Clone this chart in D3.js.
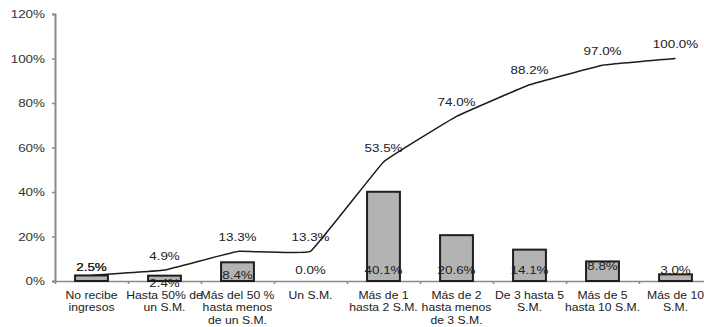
<!DOCTYPE html>
<html>
<head>
<meta charset="utf-8">
<script src="https://cdn.jsdelivr.net/npm/d3@7"></script>
<style>
  html, body { margin: 0; padding: 0; background: #fff; }
  svg { display: block; }
  text { font-family: Arial, "Liberation Sans", sans-serif; fill: #222; }
</style>
</head>
<body>
<svg id="chart" width="704" height="327"></svg>
<script>
// Income brackets (S.M. = salario mínimo)
const categories = [
  ["No recibe", "ingresos"],
  ["Hasta 50% de", "un S.M."],
  ["Más del 50 %", "hasta menos", "de un S.M."],
  ["Un S.M."],
  ["Más de 1", "hasta 2 S.M."],
  ["Más de 2", "hasta menos", "de 3 S.M."],
  ["De 3 hasta 5", "S.M."],
  ["Más de 5", "hasta 10 S.M."],
  ["Más de 10", "S.M."]
];
// Share of population per bracket (%)
const shares = [2.5, 2.4, 8.4, 0.0, 40.1, 20.6, 14.1, 8.8, 3.0];
// Cumulative share (%)
const cumulative = [2.5, 4.9, 13.3, 13.3, 53.5, 74.0, 88.2, 97.0, 100.0];
// Y axis tick values (%)
const yTicks = [0, 20, 40, 60, 80, 100, 120];

const svg = d3.select("#chart");
const plotLeft = 55, plotRight = 712, plotTop = 14, plotBottom = 281;
const sx = 1.22; // horizontal text stretch

const idx = d3.range(categories.length);
const x = d3.scaleBand().domain(idx).range([plotLeft, plotRight]).paddingInner(0.55).paddingOuter(0.275);
const xEdge = d3.scaleLinear().domain([0, categories.length]).range([plotLeft, plotRight]);
const y = d3.scaleLinear().domain([0, 120]).range([plotBottom, plotTop]);
const cx = i => x(i) + x.bandwidth() / 2;
const fmt = v => v.toFixed(1) + "%";

// Y axis
const gy = svg.append("g").attr("transform", `translate(${plotLeft},0)`)
  .call(d3.axisLeft(y).tickValues(yTicks).tickSize(3).tickFormat(d => d + "%"));
gy.select(".domain").attr("stroke", "#8a8a8a").attr("stroke-width", 2);
gy.selectAll(".tick line").attr("stroke", "#8a8a8a").attr("stroke-width", 1.5);
gy.selectAll(".tick text")
  .attr("x", null).attr("dy", null)
  .attr("dominant-baseline", "central")
  .attr("transform", `translate(-10,0) scale(${sx},1)`)
  .style("font-size", "11px").style("fill", "#333").attr("font-family", null);

// X axis with ticks on bracket boundaries
const gx = svg.append("g").attr("transform", `translate(0,${plotBottom})`)
  .call(d3.axisBottom(xEdge).tickValues(d3.range(categories.length + 1)).tickSize(3).tickFormat("").tickSizeOuter(0));
gx.select(".domain").attr("stroke", "#8a8a8a").attr("stroke-width", 1.5);
gx.selectAll(".tick line").attr("stroke", "#8a8a8a").attr("stroke-width", 1.5);

// Category labels
const catG = svg.append("g");
categories.forEach((lines, i) => {
  lines.forEach((s, k) => {
    catG.append("text")
      .attr("transform", `translate(${cx(i)},${295 + k * 12.5}) scale(${sx},1)`)
      .attr("text-anchor", "middle").attr("dominant-baseline", "central")
      .style("font-size", "10px").text(s);
  });
});

// Bars
svg.append("g").selectAll("rect").data(shares).join("rect")
  .attr("x", (d, i) => x(i))
  .attr("y", d => y(d))
  .attr("width", x.bandwidth())
  .attr("height", d => y(0) - y(d))
  .attr("fill", "#b3b3b3")
  .attr("stroke", "#1e1e1e")
  .attr("stroke-width", 2);

// Cumulative line, lightly smoothed
const line = d3.line().x((d, i) => cx(i)).y(d => y(d)).curve(d3.curveCardinal.tension(0.8));
svg.append("path").datum(cumulative)
  .attr("d", line).attr("fill", "none")
  .attr("stroke", "#1c1c1c").attr("stroke-width", 1.5);

// Bar value labels near the base
const barNudge = { 0: -3, 1: 13, 2: 5, 7: -4 };
svg.append("g").selectAll("text").data(shares).join("text")
  .attr("transform", (d, i) => `translate(${cx(i)},${y(0) - 11 + (barNudge[i] || 0)}) scale(${sx},1)`)
  .attr("text-anchor", "middle").attr("dominant-baseline", "central")
  .style("font-size", "11px").text(fmt);

// Cumulative value labels above points
const lineNudge = { 0: 6 };
svg.append("g").selectAll("text").data(cumulative).join("text")
  .attr("transform", (d, i) => `translate(${cx(i)},${y(d) - 14 + (lineNudge[i] || 0)}) scale(${sx},1)`)
  .attr("text-anchor", "middle").attr("dominant-baseline", "central")
  .style("font-size", "11px").text(fmt);
</script>
</body>
</html>
